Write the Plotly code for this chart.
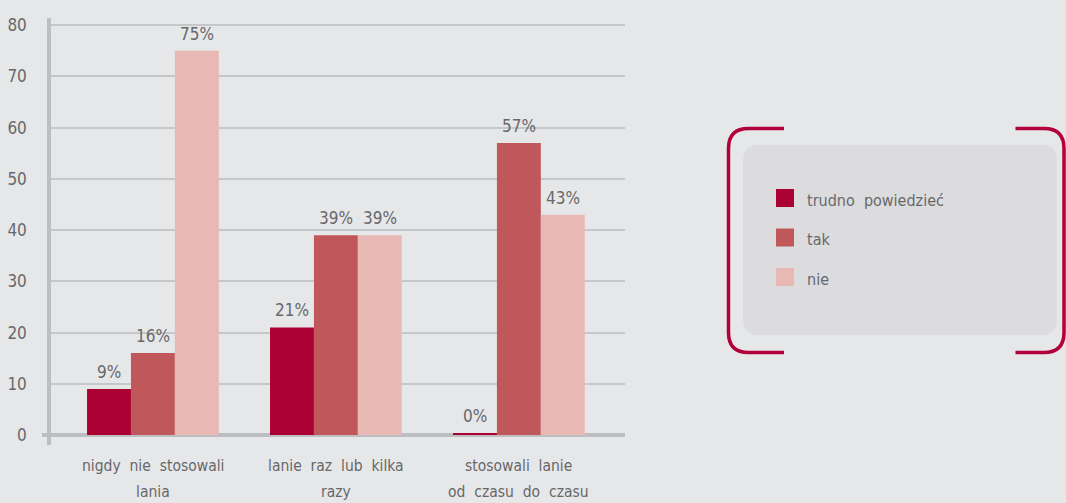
import plotly.graph_objects as go

categories = ["nigdy  nie  stosowali<br>lania", "lanie  raz  lub  kilka<br>razy", "stosowali  lanie<br>od  czasu  do  czasu"]
series_names = ["trudno  powiedzieć", "tak", "nie"]
series_values = [
    [9, 21, 0.4],
    [16, 39, 57],
    [75, 39, 43],
]
series_colors = ["#aa0032", "#c0585b", "#e7b8b4"]
y_ticks = [0, 10, 20, 30, 40, 50, 60, 70, 80]

FONT = "DejaVu Sans Condensed, sans-serif"
TEXT_GREY = "#68686a"
BG = "#e6e7e9"

# plot area in pixels
W, H = 1066, 503
L, R, T, B = 51, 625, 18, 445

BARGAP = 0.28
n_series = len(series_names)
bar_w = (1 - BARGAP) / n_series


def px(x, y):
    """pixel position -> paper coordinates"""
    return (x - L) / (R - L), (B - y) / (B - T)


fig = go.Figure()
annotations = []
for s, (name, vals, col) in enumerate(zip(series_names, series_values, series_colors)):
    fig.add_trace(go.Bar(
        x=list(range(len(categories))), y=vals, name=name,
        marker=dict(color=col, line=dict(width=0)),
        showlegend=False,
    ))
    # value labels above each bar
    for c, v in enumerate(vals):
        annotations.append(dict(
            xref="x", yref="y", x=c + (s - (n_series - 1) / 2) * bar_w, y=v,
            text=f"{v:.0f}%", showarrow=False, xanchor="center", yanchor="bottom",
            yshift=5, font=dict(family=FONT, size=17, color=TEXT_GREY),
        ))

# category labels, one annotation per line for wider line spacing
for c, label in enumerate(categories):
    for k, line in enumerate(label.split("<br>")):
        annotations.append(dict(
            xref="x", yref="paper", x=c, y=px(0, 466 + k * 26)[1],
            text=line, showarrow=False, xanchor="center", yanchor="middle",
            font=dict(family=FONT, size=15.5, color=TEXT_GREY),
        ))

shapes = []

# small stub of the zero line left of the value axis
x0, _ = px(42, 0)
shapes.append(dict(type="line", xref="paper", yref="y", x0=x0, x1=0, y0=0, y1=0,
                   line=dict(color="#bdbec1", width=4), layer="above"))


def rounded_rect(x0, y0, x1, y1, r):
    def p(x, y):
        a, b = px(x, y)
        return f"{a:.5f},{b:.5f}"
    return (f"M {p(x0 + r, y0)} L {p(x1 - r, y0)} Q {p(x1, y0)} {p(x1, y0 + r)} "
            f"L {p(x1, y1 - r)} Q {p(x1, y1)} {p(x1 - r, y1)} "
            f"L {p(x0 + r, y1)} Q {p(x0, y1)} {p(x0, y1 - r)} "
            f"L {p(x0, y0 + r)} Q {p(x0, y0)} {p(x0 + r, y0)} Z")


# legend panel
shapes.append(dict(type="path", xref="paper", yref="paper",
                   path=rounded_rect(743, 145, 1057, 335, 16),
                   fillcolor="#dcdcdf", line=dict(width=0)))


def bracket(xv, xend, ytop, ybot, r):
    def p(x, y):
        a, b = px(x, y)
        return f"{a:.5f},{b:.5f}"
    s = 1 if xend > xv else -1
    return (f"M {p(xend, ytop)} L {p(xv + s * r, ytop)} Q {p(xv, ytop)} {p(xv, ytop + r)} "
            f"L {p(xv, ybot - r)} Q {p(xv, ybot)} {p(xv + s * r, ybot)} L {p(xend, ybot)}")


bracket_color = "#b1003a"
shapes.append(dict(type="path", xref="paper", yref="paper",
                   path=bracket(728.5, 784, 128.5, 352.5, 20),
                   line=dict(color=bracket_color, width=3.5)))
shapes.append(dict(type="path", xref="paper", yref="paper",
                   path=bracket(1064, 1015.5, 128.5, 352.5, 20),
                   line=dict(color=bracket_color, width=3.5)))

# legend entries
for i, (name, col) in enumerate(zip(series_names, series_colors)):
    ytop = 189 + i * 39.5
    a0, b0 = px(776, ytop)
    a1, b1 = px(794, ytop + 18)
    shapes.append(dict(type="rect", xref="paper", yref="paper", x0=a0, x1=a1, y0=b1, y1=b0,
                       fillcolor=col, line=dict(width=0)))
    tx, ty = px(805, ytop + 11)
    annotations.append(dict(xref="paper", yref="paper", x=tx, y=ty, text=name,
                            showarrow=False, xanchor="left", yanchor="middle",
                            font=dict(family=FONT, size=16, color=TEXT_GREY)))

fig.update_layout(
    width=W, height=H,
    margin=dict(l=L, r=W - R, t=T, b=H - B, pad=0, autoexpand=False),
    paper_bgcolor=BG, plot_bgcolor=BG,
    barmode="group", bargap=BARGAP, bargroupgap=0,
    shapes=shapes, annotations=annotations,
    xaxis=dict(
        range=[-0.557, 2.58], tickmode="array",
        tickvals=list(range(len(categories))), showticklabels=False,
        showgrid=False, zeroline=False, showline=False, ticks="",
        automargin=False,
    ),
    yaxis=dict(
        range=[-1.95, 81.4], tickmode="array", tickvals=y_ticks,
        showgrid=True, gridcolor="#c6c7c9", gridwidth=1.5,
        zeroline=True, zerolinecolor="#bdbec1", zerolinewidth=4,
        showline=True, linecolor="#bdbec1", linewidth=3.5,
        ticks="", ticklabelstandoff=17, automargin=False,
        tickfont=dict(family=FONT, size=17, color=TEXT_GREY),
    ),
    font=dict(family=FONT),
)

fig.write_html("out.html")
